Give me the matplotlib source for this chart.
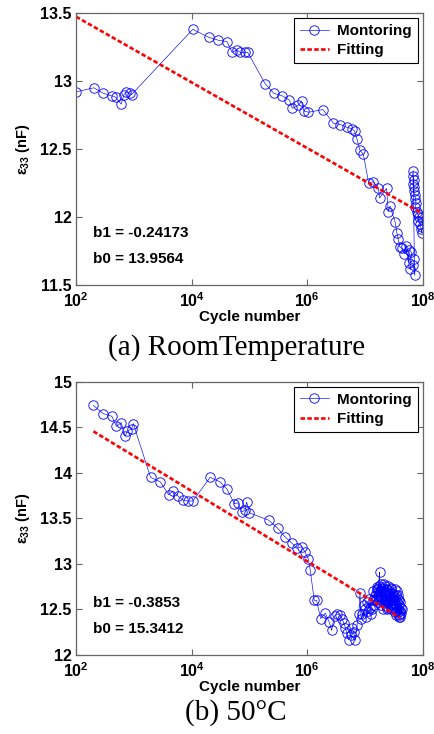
import numpy as np
import matplotlib
matplotlib.use("Agg")
import matplotlib.pyplot as plt

plt.rcParams['font.family'] = ['Liberation Sans', 'DejaVu Sans']
plt.rcParams['mathtext.fontset'] = 'custom'
plt.rcParams['mathtext.rm'] = 'Liberation Sans:bold'
plt.rcParams['mathtext.bf'] = 'Liberation Sans:bold'
plt.rcParams['mathtext.it'] = 'Liberation Sans:bold'

# --- (a) room temperature: log10(cycle) and capacitance (nF)
logc_rt = [2.00, 2.31, 2.47, 2.62, 2.69, 2.78, 2.83, 2.87, 2.93, 2.96,
           4.02, 4.30, 4.46, 4.61, 4.70, 4.78, 4.84, 4.92, 4.97,
           5.27, 5.42, 5.57, 5.69, 5.74, 5.84, 5.90, 5.94, 6.02,
           6.27, 6.45, 6.57, 6.68, 6.77, 6.82, 6.86, 6.91, 6.97,
           7.06, 7.14, 7.23, 7.25, 7.37, 7.40, 7.43, 7.52, 7.55, 7.57,
           7.60, 7.63, 7.68, 7.70, 7.75, 7.76, 7.80, 7.78, 7.83, 7.86, 7.85,
           7.83, 7.82, 7.84, 7.83, 7.85, 7.84, 7.86, 7.87, 7.88, 7.87,
           7.89, 7.91, 7.93, 7.92, 7.95, 7.97, 7.98, 7.99, 7.98]
cap_rt = [12.92, 12.95, 12.91, 12.89, 12.88, 12.83, 12.90, 12.92, 12.91, 12.90,
          13.38, 13.32, 13.30, 13.29, 13.21, 13.23, 13.21, 13.21, 13.21,
          12.98, 12.91, 12.89, 12.86, 12.80, 12.82, 12.85, 12.78, 12.77,
          12.79, 12.69, 12.68, 12.66, 12.65, 12.63, 12.57, 12.49, 12.46,
          12.25, 12.26, 12.21, 12.14, 12.21, 12.04, 12.08, 11.96, 11.88, 11.84,
          11.78, 11.77, 11.73, 11.79, 11.66, 11.76, 11.74, 11.62, 11.65, 11.57, 11.69,
          12.34, 12.30, 12.27, 12.24, 12.22, 12.19, 12.16, 12.13, 12.10, 12.07,
          12.04, 12.02, 12.00, 11.97, 11.95, 11.91, 11.88, 11.93, 12.00]
fit_rt_x = [1e2, 9.5e7]
fit_rt_y = [13.473, 12.028]

# --- (b) 50 C
logc_50 = [2.30, 2.47, 2.62, 2.70, 2.78, 2.85, 2.89, 2.96, 2.99,
           3.29, 3.46, 3.60, 3.68, 3.77, 3.85, 3.93, 4.02,
           4.32, 4.49, 4.61, 4.74, 4.80, 4.87, 4.92, 4.95, 5.00,
           5.33, 5.49, 5.61, 5.73, 5.82, 5.90, 5.96, 6.02, 6.05,
           6.12, 6.16, 6.23, 6.31, 6.38, 6.42, 6.47, 6.52, 6.57, 6.60,
           6.63, 6.66, 6.68, 6.72, 6.75, 6.78, 6.80, 6.83, 6.86, 6.89, 6.91,
           6.93, 7.00, 6.95, 7.02, 7.05, 6.98, 7.03, 7.08, 7.10, 7.12, 7.07,
           7.13, 7.15, 7.17, 7.14, 7.19, 7.21, 7.18, 7.22, 7.25, 7.23, 7.27,
           7.24, 7.29, 7.26, 7.31, 7.28, 7.33, 7.30, 7.35, 7.32, 7.37, 7.34,
           7.39, 7.41, 7.36, 7.43, 7.40, 7.45, 7.42, 7.47, 7.44, 7.49, 7.46,
           7.51, 7.48, 7.53, 7.50, 7.55, 7.52, 7.57, 7.54, 7.59, 7.56, 7.61,
           7.58, 7.62, 7.60,
           7.55, 7.50, 7.45, 7.40, 7.35, 7.30, 7.26, 7.22, 7.18, 7.20, 7.24,
           7.28, 7.32, 7.36, 7.40, 7.44, 7.48, 7.52, 7.56, 7.60, 7.63, 7.59,
           7.54, 7.49, 7.43, 7.38, 7.33, 7.29, 7.34, 7.39, 7.46, 7.53, 7.58,
           7.62, 7.60]
cap_50 = [14.74, 14.65, 14.62, 14.51, 14.55, 14.40, 14.46, 14.48, 14.54,
          13.95, 13.90, 13.76, 13.80, 13.74, 13.70, 13.69, 13.69,
          13.95, 13.90, 13.82, 13.66, 13.67, 13.57, 13.59, 13.68, 13.56,
          13.48, 13.39, 13.30, 13.23, 13.17, 13.19, 13.13, 13.05, 12.93,
          12.60, 12.60, 12.40, 12.46, 12.36, 12.27, 12.43, 12.45, 12.44, 12.40,
          12.35, 12.30, 12.24, 12.17, 12.22, 12.30, 12.25, 12.16, 12.33, 12.45, 12.68,
          12.40, 12.50, 12.45, 12.42, 12.48, 12.55, 12.58, 12.52, 12.45, 12.50, 12.62,
          12.60, 12.55, 12.65, 12.70, 12.68, 12.75, 12.60, 12.58, 12.91, 12.72, 12.78,
          12.66, 12.70, 12.62, 12.74, 12.55, 12.68, 12.50, 12.60, 12.78, 12.72, 12.65,
          12.76, 12.70, 12.54, 12.62, 12.52, 12.74, 12.58, 12.68, 12.50, 12.64, 12.56,
          12.72, 12.60, 12.66, 12.52, 12.58, 12.47, 12.62, 12.44, 12.55, 12.50, 12.48,
          12.42, 12.52, 12.45,
          12.70, 12.66, 12.72, 12.68, 12.76, 12.73, 12.70, 12.66, 12.62, 12.72, 12.76,
          12.64, 12.70, 12.62, 12.58, 12.62, 12.55, 12.60, 12.66, 12.58, 12.50, 12.44,
          12.48, 12.52, 12.56, 12.50, 12.58, 12.64, 12.60, 12.66, 12.62, 12.55, 12.60,
          12.46, 12.42]
fit_50_x = [2e2, 4e7]
fit_50_y = [14.455, 12.41]

panels = [
    dict(x=10 ** np.array(logc_rt), y=cap_rt, fx=fit_rt_x, fy=fit_rt_y,
         ylim=(11.5, 13.5), yticks=[11.5, 12, 12.5, 13, 13.5],
         ylabels=['11.5', '12', '12.5', '13', '13.5'],
         b1='b1 = -0.24173', b0='b0 = 13.9564',
         caption='(a) RoomTemperature',
         rect=[0.1747, 0.6117, 0.7977, 0.3706], cap_y=0.526),
    dict(x=10 ** np.array(logc_50), y=cap_50, fx=fit_50_x, fy=fit_50_y,
         ylim=(12, 15), yticks=[12, 12.5, 13, 13.5, 14, 14.5, 15],
         ylabels=['12', '12.5', '13', '13.5', '14', '14.5', '15'],
         b1='b1 = -0.3853', b0='b0 = 15.3412',
         caption='(b) 50\u00b0C',
         rect=[0.1747, 0.1076, 0.7977, 0.3724], cap_y=0.0286),
]

fig = plt.figure(figsize=(4.35, 7.34), dpi=100)
spine_col = '#666666'

for p in panels:
    ax = fig.add_axes(p['rect'])
    ax.plot(p['x'], p['y'], '-o', color='blue', lw=0.45, ms=6.8, mfc='none',
            mew=0.6, label='Montoring')
    ax.plot(p['fx'], p['fy'], color='red', lw=1.9, ls=(0, (1.7, 0.9)),
            label='Fitting')
    ax.set_xscale('log')
    ax.set_xlim(1e2, 1e8)
    ax.set_ylim(*p['ylim'])
    ax.set_xticks([1e2, 1e4, 1e6, 1e8])
    ax.set_xticklabels([r'$\mathbf{10^{2}}$', r'$\mathbf{10^{4}}$',
                        r'$\mathbf{10^{6}}$', r'$\mathbf{10^{8}}$'])
    ax.xaxis.set_minor_locator(matplotlib.ticker.NullLocator())
    ax.set_yticks(p['yticks'])
    ax.set_yticklabels(p['ylabels'])
    ax.tick_params(direction='in', top=True, right=True, length=4,
                   width=0.8, color=spine_col, labelsize=11.5, pad=3)
    ax.tick_params(axis='x', pad=4.5)
    for lab in ax.get_yticklabels():
        lab.set_fontweight('bold')
    for s in ax.spines.values():
        s.set_color(spine_col)
        s.set_linewidth(0.9)
    ax.set_xlabel('Cycle number', fontsize=11, fontweight='bold', labelpad=0)
    ax.set_ylabel(r'$\epsilon_{33}$ (nF)', fontsize=10.5, fontweight='bold',
                  labelpad=6)
    ax.text(0.05, 0.192, p['b1'], transform=ax.transAxes, fontsize=11,
            fontweight='bold', va='center')
    ax.text(0.05, 0.095, p['b0'], transform=ax.transAxes, fontsize=11,
            fontweight='bold', va='center')
    leg = ax.legend(loc='upper right', bbox_to_anchor=(0.986, 0.982),
                    fancybox=False, framealpha=1, edgecolor='black',
                    prop={'weight': 'bold', 'size': 11}, handlelength=1.9,
                    borderpad=0.4, labelspacing=0.35, handletextpad=0.55,
                    borderaxespad=0)
    leg.get_frame().set_linewidth(0.8)
    fig.text(0.543, p['cap_y'], p['caption'], ha='center', va='center',
             fontsize=21, family=['Liberation Serif', 'DejaVu Serif'])

fig.savefig('out.png', dpi=100)
